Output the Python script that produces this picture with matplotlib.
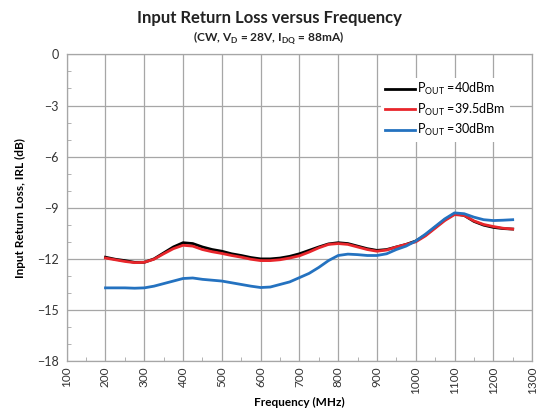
import matplotlib.pyplot as plt
import numpy as np
from matplotlib.ticker import MultipleLocator

plt.rcParams['font.family'] = ['Lato', 'DejaVu Sans']
plt.rcParams['mathtext.fontset'] = 'custom'
plt.rcParams['mathtext.rm'] = 'Lato'
plt.rcParams['mathtext.bf'] = 'Lato:bold'

freq = np.array([200, 225, 250, 275, 300, 325, 350, 375, 400, 425, 450, 475, 500, 525, 550, 575,
                 600, 625, 650, 675, 700, 725, 750, 775, 800, 825, 850, 875, 900, 925, 950, 975,
                 1000, 1025, 1050, 1075, 1100, 1125, 1150, 1175, 1200, 1225, 1250])
irl_40 = np.array([-11.9, -12.02, -12.1, -12.2, -12.2, -12.0, -11.65, -11.3, -11.05, -11.1, -11.3,
                   -11.45, -11.55, -11.7, -11.8, -11.92, -12.0, -12.0, -11.95, -11.85, -11.7, -11.5,
                   -11.3, -11.12, -11.05, -11.1, -11.25, -11.4, -11.5, -11.45, -11.3, -11.15, -10.95,
                   -10.6, -10.15, -9.7, -9.35, -9.45, -9.8, -10.02, -10.15, -10.22, -10.25])
irl_395 = np.array([-11.95, -12.05, -12.15, -12.22, -12.2, -12.02, -11.7, -11.4, -11.2, -11.25, -11.45,
                    -11.58, -11.68, -11.8, -11.9, -12.02, -12.1, -12.1, -12.05, -11.95, -11.82, -11.6,
                    -11.35, -11.15, -11.1, -11.15, -11.3, -11.45, -11.55, -11.48, -11.3, -11.15, -11.0,
                    -10.65, -10.2, -9.75, -9.4, -9.45, -9.77, -9.98, -10.1, -10.2, -10.25])
irl_30 = np.array([-13.7, -13.7, -13.7, -13.72, -13.7, -13.6, -13.45, -13.3, -13.15, -13.12, -13.2,
                   -13.25, -13.3, -13.4, -13.5, -13.6, -13.68, -13.65, -13.5, -13.35, -13.1, -12.85,
                   -12.5, -12.1, -11.8, -11.72, -11.75, -11.8, -11.8, -11.7, -11.45, -11.25, -10.95,
                   -10.55, -10.1, -9.65, -9.3, -9.35, -9.55, -9.7, -9.75, -9.73, -9.7])
labels = [r"P$_\mathrm{OUT}$ =40dBm", r"P$_\mathrm{OUT}$ =39.5dBm", r"P$_\mathrm{OUT}$ =30dBm"]

fig = plt.figure(figsize=(5.38, 4.09), dpi=100)
ax = fig.add_axes([0.124, 0.117, 0.865, 0.750])

ax.plot(freq, irl_40, color="black", lw=2.0, label=labels[0])
ax.plot(freq, irl_395, color="#e8262b", lw=2.0, label=labels[1])
ax.plot(freq, irl_30, color="#2472c0", lw=2.0, label=labels[2])

ax.set_xlim(100, 1300)
ax.set_ylim(-18, 0)
ax.xaxis.set_major_locator(MultipleLocator(100))
ax.xaxis.set_minor_locator(MultipleLocator(50))
ax.yaxis.set_major_locator(MultipleLocator(3))
ax.yaxis.set_minor_locator(MultipleLocator(1))
ax.grid(which="major", color="#a6a6a6", lw=0.9)
ax.tick_params(which="major", length=0, labelsize=9, colors="#333333", pad=6)
ax.tick_params(which="minor", direction="in", length=3, color="#a6a6a6")
ax.tick_params(axis="x", labelrotation=90, labelsize=8.5, pad=4)
for s in ax.spines.values():
    s.set_color("#a6a6a6")
    s.set_linewidth(0.9)

ax.set_xlabel("Frequency (MHz)", fontweight="bold", fontsize=8.5, labelpad=2)
ax.set_ylabel("Input Return Loss, IRL (dB)", fontweight="bold", fontsize=8.5, labelpad=8)

fig.text(0.5, 0.955, "Input Return Loss versus Frequency", ha="center", va="center",
         fontsize=12, fontweight="bold", color="#222222")
fig.text(0.5, 0.908, r"(CW, V$_\mathbf{D}$ = 28V, I$_\mathbf{DQ}$ = 88mA)", ha="center", va="center",
         fontsize=8.6, fontweight="bold", color="#222222")

leg = ax.legend(loc="upper right", bbox_to_anchor=(0.965, 0.945), frameon=True, fontsize=9,
                handlelength=2.4, handletextpad=0.2, labelspacing=0.35, borderpad=0.3)
leg.get_frame().set_edgecolor("none")
leg.get_frame().set_facecolor("white")
leg.get_frame().set_alpha(1)

fig.savefig("out.png", dpi=100)
